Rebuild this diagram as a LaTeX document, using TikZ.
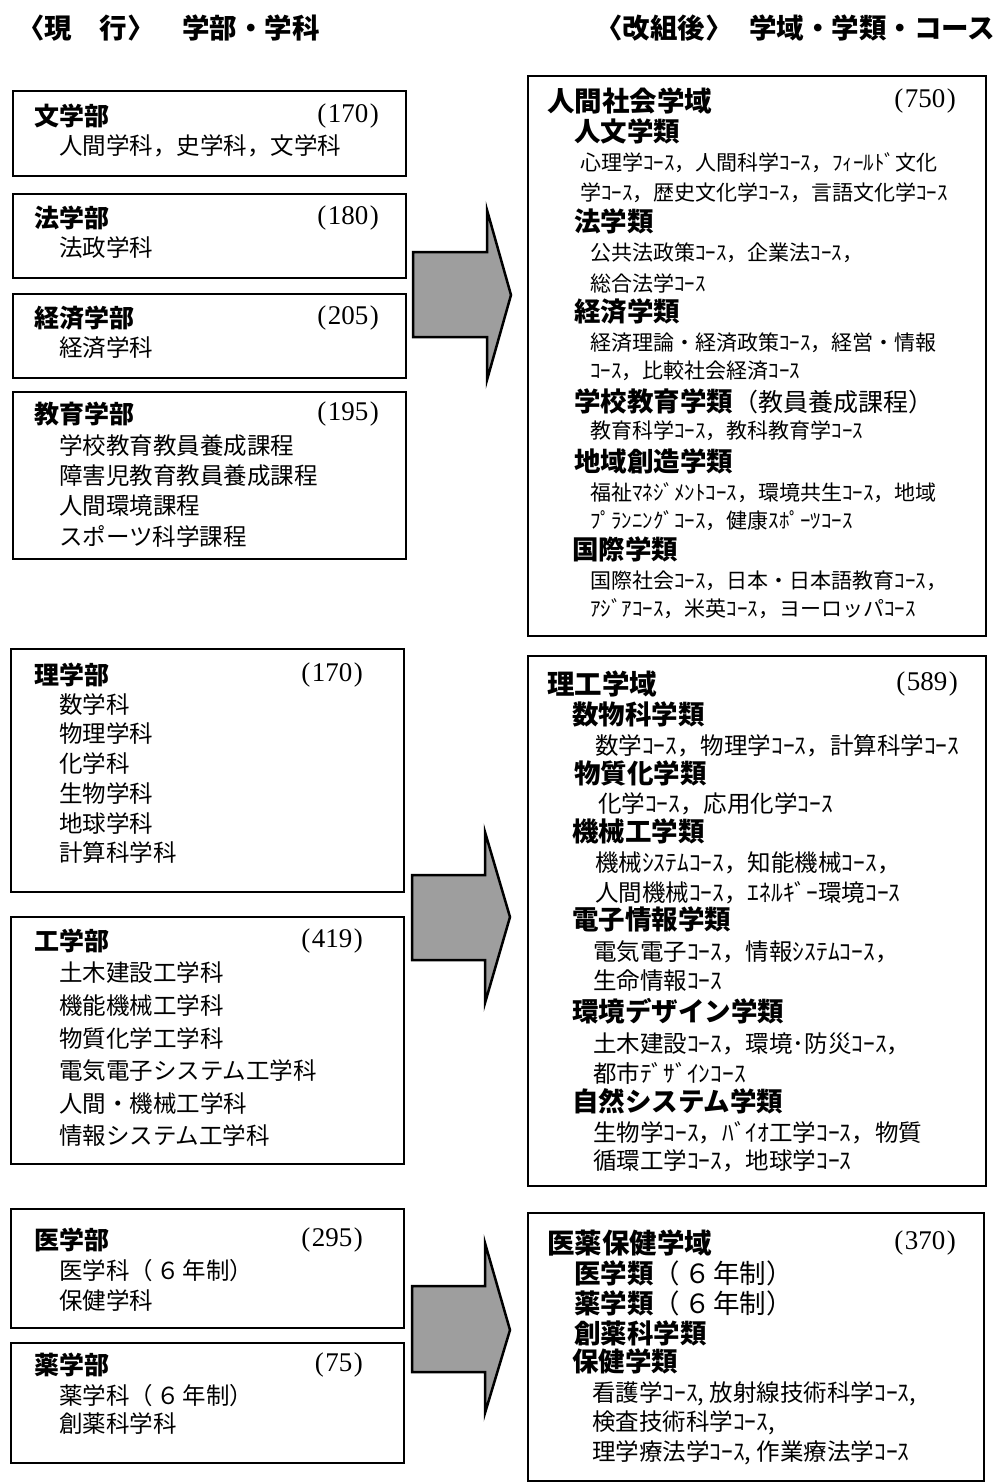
\documentclass[tikz,border=0pt]{standalone}
\usepackage{fontspec}
\newfontfamily\jp{Noto Sans CJK JP}
\newfontfamily\numf{Liberation Serif}
\tikzset{
  boxst/.style={draw=black, line width=2pt, inner sep=0pt, anchor=north west},
  hdr/.style={inner sep=0pt, anchor=west, font=\jp\bfseries\fontsize{27.5}{29}\selectfont},
  lt/.style={inner sep=0pt, anchor=west, font=\jp\fontsize{23.5}{25}\selectfont},
  lh/.style={inner sep=0pt, anchor=west, font=\jp\bfseries\fontsize{25}{27}\selectfont},
  num/.style={inner sep=0pt, anchor=east, font=\numf\fontsize{27}{29}\selectfont},
  rd/.style={inner sep=0pt, anchor=west, font=\jp\bfseries\fontsize{27.5}{29}\selectfont},
  rh/.style={inner sep=0pt, anchor=west, font=\jp\bfseries\fontsize{26.5}{28}\selectfont},
  rs/.style={inner sep=0pt, anchor=west, font=\jp\fontsize{21}{23}\selectfont},
  rsb/.style={inner sep=0pt, anchor=west, font=\jp\fontsize{23.5}{25}\selectfont},
  blockarrow/.style={draw=black, line width=2.5pt, fill=black!38, line join=miter}
}
\newcommand\nump[1]{(\kern1.5pt#1\kern1.5pt)}
\begin{document}
\begin{tikzpicture}[x=1pt,y=-1pt]
\useasboundingbox (0,0) rectangle (1002,1482);
\fill[white] (0,0) rectangle (1002,1482);

% headers
\node[hdr] (hL1) at (17,28) {〈現\hspace{1em}行〉};
\node[hdr] (hL2) at (182,28) {学部・学科};
\node[hdr] (hR1) at (595,28) {〈改組後〉};
\node[hdr] (hR2) at (749,28) {学域・学類・コース};

% left boxes
\node[boxst, minimum width=393pt, minimum height=85pt] (bBun) at (12,90) {};
\node[boxst, minimum width=393pt, minimum height=84pt] (bHou) at (12,193) {};
\node[boxst, minimum width=393pt, minimum height=84pt] (bKei) at (12,293) {};
\node[boxst, minimum width=393pt, minimum height=167pt] (bKyo) at (12,391) {};
\node[boxst, minimum width=393pt, minimum height=243pt] (bRi) at (10,648) {};
\node[boxst, minimum width=393pt, minimum height=247pt] (bKo) at (10,916) {};
\node[boxst, minimum width=393pt, minimum height=119pt] (bI) at (10,1208) {};
\node[boxst, minimum width=393pt, minimum height=120pt] (bYa) at (10,1342) {};

% right boxes
\node[boxst, minimum width=458pt, minimum height=560pt] (rHum) at (527,75) {};
\node[boxst, minimum width=458pt, minimum height=530pt] (rSci) at (527,655) {};
\node[boxst, minimum width=456pt, minimum height=268pt] (rMed) at (527,1212) {};

% arrows
\coordinate (a1) at (413,252);
\draw[blockarrow] (a1) -- (487,252) -- (487,210) -- (511,295) -- (487,380) -- (487,337) -- (413,337) -- cycle;
\coordinate (a2) at (412,875);
\draw[blockarrow] (a2) -- (485,875) -- (485,832) -- (510,917) -- (485,1003) -- (485,960) -- (412,960) -- cycle;
\coordinate (a3) at (412,1286);
\draw[blockarrow] (a3) -- (485,1286) -- (485,1243) -- (510,1330) -- (485,1413) -- (485,1372) -- (412,1372) -- cycle;

% left texts
\node[lh] (t1) at (34,116) {文学部};
\node[num] (n1) at (379,116) {\nump{170}};
\node[lt] (t1a) at (59,146) {人間学科，史学科，文学科};

\node[lh] (t2) at (34,218) {法学部};
\node[num] (n2) at (379,218) {\nump{180}};
\node[lt] (t2a) at (59,248) {法政学科};

\node[lh] (t3) at (34,318) {経済学部};
\node[num] (n3) at (379,318) {\nump{205}};
\node[lt] (t3a) at (59,348) {経済学科};

\node[lh] (t4) at (34,414) {教育学部};
\node[num] (n4) at (379,414) {\nump{195}};
\node[lt] (t4a) at (59,446) {学校教育教員養成課程};
\node[lt] (t4b) at (59,476) {障害児教育教員養成課程};
\node[lt] (t4c) at (59,506) {人間環境課程};
\node[lt] (t4d) at (59,536) {スポーツ科学課程};

\node[lh] (t5) at (34,675) {理学部};
\node[num] (n5) at (363,675) {\nump{170}};
\node[lt] (t5a) at (59,705) {数学科};
\node[lt] (t5b) at (59,734) {物理学科};
\node[lt] (t5c) at (59,764) {化学科};
\node[lt] (t5d) at (59,794) {生物学科};
\node[lt] (t5e) at (59,824) {地球学科};
\node[lt] (t5f) at (59,853) {計算科学科};

\node[lh] (t6) at (34,941) {工学部};
\node[num] (n6) at (363,941) {\nump{419}};
\node[lt] (t6a) at (59,973) {土木建設工学科};
\node[lt] (t6b) at (59,1006) {機能機械工学科};
\node[lt] (t6c) at (59,1039) {物質化学工学科};
\node[lt] (t6d) at (59,1071) {電気電子システム工学科};
\node[lt] (t6e) at (59,1104) {人間・機械工学科};
\node[lt] (t6f) at (59,1136) {情報システム工学科};

\node[lh] (t7) at (34,1240) {医学部};
\node[num] (n7) at (363,1240) {\nump{295}};
\node[lt] (t7a) at (59,1271) {医学科（\hspace{0.15em}６\hspace{0.1em}年制）};
\node[lt] (t7b) at (59,1301) {保健学科};

\node[lh] (t8) at (34,1365) {薬学部};
\node[num] (n8) at (363,1365) {\nump{75}};
\node[lt] (t8a) at (59,1396) {薬学科（\hspace{0.15em}６\hspace{0.1em}年制）};
\node[lt] (t8b) at (59,1424) {創薬科学科};

% right box 1
\node[rd] (d1) at (547,101) {人間社会学域};
\node[num] (m1) at (956,101) {\nump{750}};
\node[rh] (c1) at (574,131) {人文学類};
\node[rs] (c1a) at (580,163) {心理学ｺｰｽ，人間科学ｺｰｽ，ﾌｨｰﾙﾄﾞ文化};
\node[rs] (c1b) at (580,193) {学ｺｰｽ，歴史文化学ｺｰｽ，言語文化学ｺｰｽ};
\node[rh] (c2) at (574,221) {法学類};
\node[rs] (c2a) at (590,253) {公共法政策ｺｰｽ，企業法ｺｰｽ，};
\node[rs] (c2b) at (590,283) {総合法学ｺｰｽ};
\node[rh] (c3) at (574,311) {経済学類};
\node[rs] (c3a) at (590,343) {経済理論・経済政策ｺｰｽ，経営・情報};
\node[rs] (c3b) at (590,371) {ｺｰｽ，比較社会経済ｺｰｽ};
\node[rh] (c4) at (574,401) {学校教育学類\mdseries\fontsize{25}{27}\selectfont（教員養成課程）};
\node[rs] (c4a) at (590,431) {教育科学ｺｰｽ，教科教育学ｺｰｽ};
\node[rh] (c5) at (574,461) {地域創造学類};
\node[rs] (c5a) at (590,493) {福祉ﾏﾈｼﾞﾒﾝﾄｺｰｽ，環境共生ｺｰｽ，地域};
\node[rs] (c5b) at (590,521) {ﾌﾟﾗﾝﾆﾝｸﾞｺｰｽ，健康ｽﾎﾟｰﾂｺｰｽ};
\node[rh] (c6) at (572,549) {国際学類};
\node[rs] (c6a) at (590,581) {国際社会ｺｰｽ，日本・日本語教育ｺｰｽ，};
\node[rs] (c6b) at (590,609) {ｱｼﾞｱｺｰｽ，米英ｺｰｽ，ヨーロッパｺｰｽ};

% right box 2
\node[rd] (d2) at (547,684) {理工学域};
\node[num] (m2) at (958,684) {\nump{589}};
\node[rh] (s1) at (572,714) {数物科学類};
\node[rsb] (s1a) at (595,746) {数学ｺｰｽ，物理学ｺｰｽ，計算科学ｺｰｽ};
\node[rh] (s2) at (574,773) {物質化学類};
\node[rsb] (s2a) at (598,804) {化学ｺｰｽ，応用化学ｺｰｽ};
\node[rh] (s3) at (572,831) {機械工学類};
\node[rsb] (s3a) at (595,863) {機械ｼｽﾃﾑｺｰｽ，知能機械ｺｰｽ，};
\node[rsb] (s3b) at (595,893) {人間機械ｺｰｽ，ｴﾈﾙｷﾞｰ環境ｺｰｽ};
\node[rh] (s4) at (572,919) {電子情報学類};
\node[rsb] (s4a) at (593,952) {電気電子ｺｰｽ，情報ｼｽﾃﾑｺｰｽ，};
\node[rsb] (s4b) at (593,981) {生命情報ｺｰｽ};
\node[rh] (s5) at (572,1011) {環境デザイン学類};
\node[rsb] (s5a) at (593,1044) {土木建設ｺｰｽ，環境･防災ｺｰｽ，};
\node[rsb] (s5b) at (593,1073) {都市ﾃﾞｻﾞｲﾝｺｰｽ};
\node[rh] (s6) at (572,1101) {自然システム学類};
\node[rsb] (s6a) at (593,1133) {生物学ｺｰｽ，ﾊﾞｲｵ工学ｺｰｽ，物質};
\node[rsb] (s6b) at (593,1161) {循環工学ｺｰｽ，地球学ｺｰｽ};

% right box 3
\node[rd] (d3) at (547,1243) {医薬保健学域};
\node[num] (m3) at (956,1243) {\nump{370}};
\node[rh] (p1) at (574,1273) {医学類\mdseries（\hspace{0.15em}６\hspace{0.1em}年制）};
\node[rh] (p2) at (574,1303) {薬学類\mdseries（\hspace{0.15em}６\hspace{0.1em}年制）};
\node[rh] (p3) at (574,1333) {創薬科学類};
\node[rh] (p4) at (572,1361) {保健学類};
\node[rsb] (p4a) at (592,1394) {看護学ｺｰｽ, 放射線技術科学ｺｰｽ,};
\node[rsb] (p4b) at (592,1423) {検査技術科学ｺｰｽ,};
\node[rsb] (p4c) at (592,1453) {理学療法学ｺｰｽ, 作業療法学ｺｰｽ};
\end{tikzpicture}
\end{document}
